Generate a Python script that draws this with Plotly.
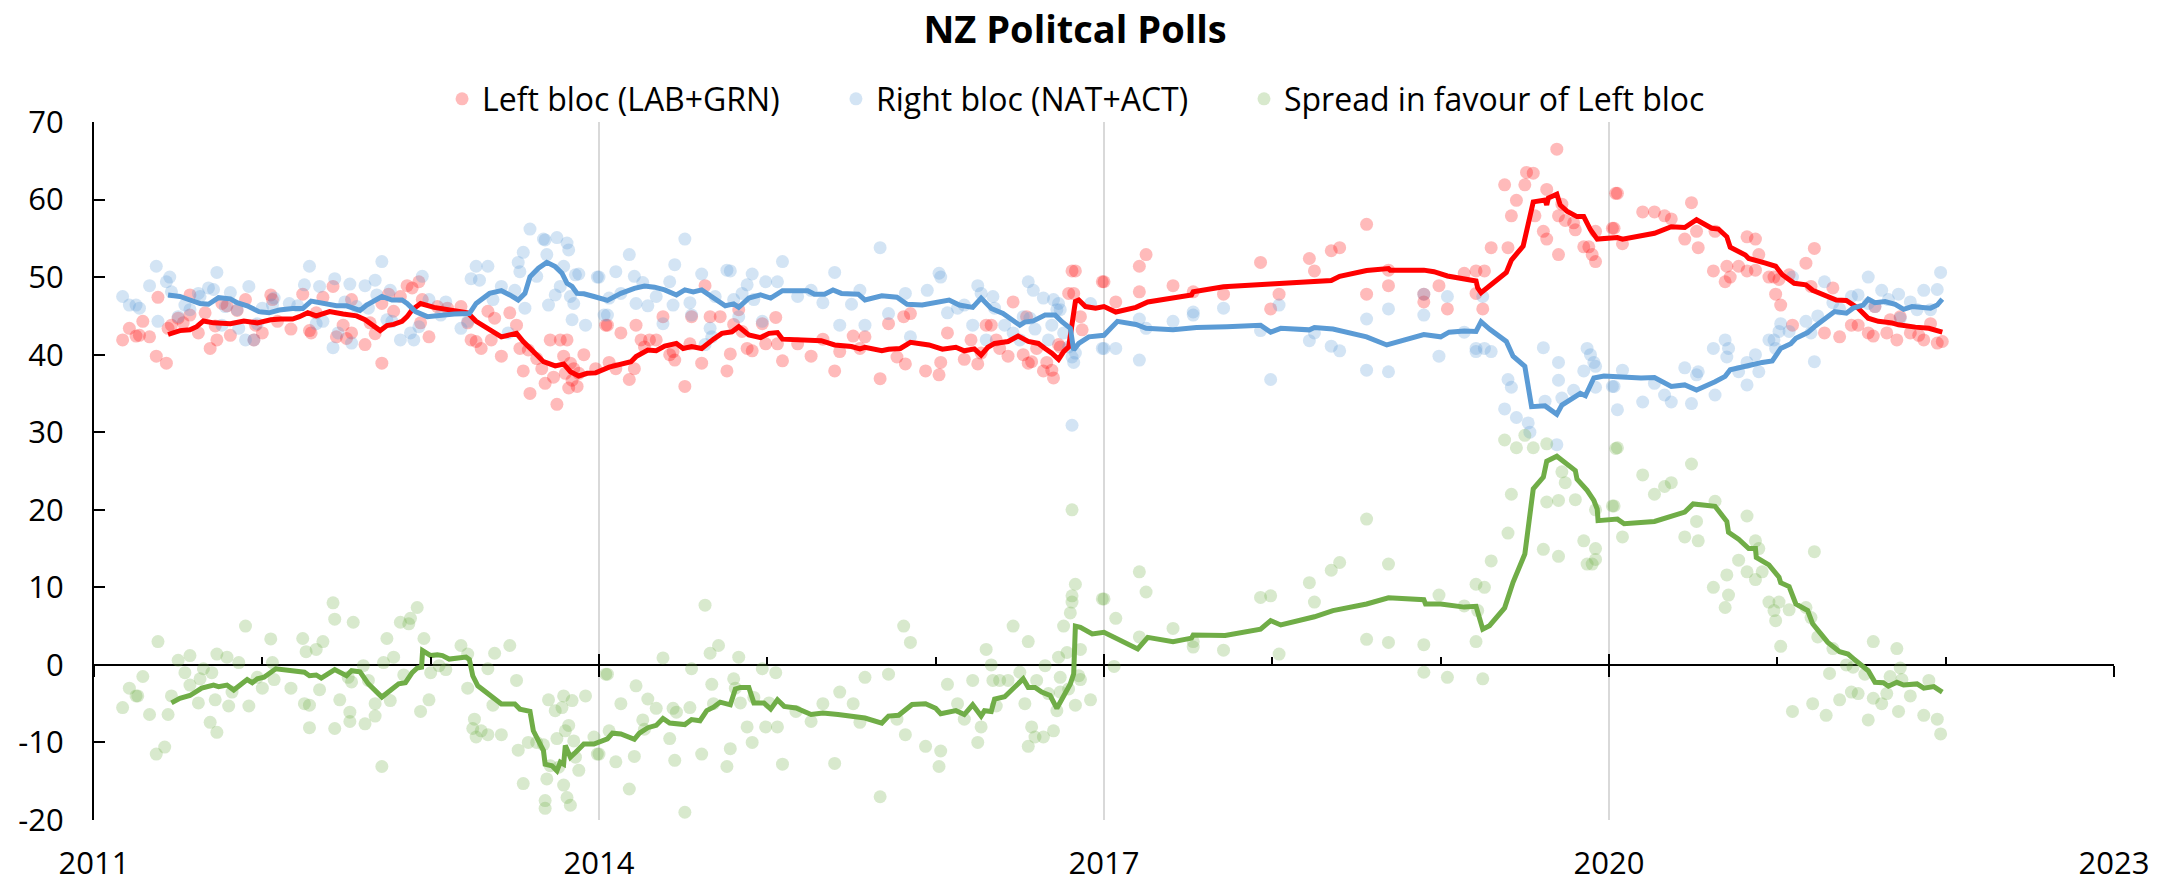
import plotly.graph_objects as go

# ---------------- data ----------------
title_text = "NZ Politcal Polls"
series_names = ["Left bloc (LAB+GRN)", "Right bloc (NAT+ACT)", "Spread in favour of Left bloc"]
year_ticks = [2011, 2014, 2017, 2020, 2023]
minor_years = [2012, 2013, 2015, 2016, 2018, 2019, 2021, 2022]
y_ticks = [-20, -10, 0, 10, 20, 30, 40, 50, 60, 70]
y_tick_text = ["-20", "-10", "0", "10", "20", "30", "40", "50", "60", "70"]

left_polls = [
    (2011.17, 41.9), (2011.21, 43.4), (2011.25, 42.4), (2011.29, 44.3), (2011.27, 42.5), (2011.33, 42.3),
    (2011.37, 39.8), (2011.38, 47.4), (2011.43, 38.9), (2011.44, 43.4), (2011.46, 43.8), (2011.50, 44.7),
    (2011.53, 44.1), (2011.57, 47.7), (2011.57, 45.1), (2011.62, 42.8), (2011.66, 45.4), (2011.69, 40.8),
    (2011.72, 43.7), (2011.73, 41.9), (2011.76, 46.6), (2011.79, 46.3), (2011.81, 42.5), (2011.85, 45.7),
    (2011.90, 47.1), (2011.95, 41.9), (2011.96, 43.8), (2012.00, 42.8), (2012.05, 47.7), (2012.06, 47.1),
    (2012.09, 44.3), (2012.17, 43.3), (2012.24, 47.8), (2012.28, 43.1), (2012.29, 42.8), (2012.32, 45.4),
    (2012.36, 47.4), (2012.42, 48.8), (2012.44, 42.3), (2012.48, 43.8), (2012.50, 42.1), (2012.53, 42.8),
    (2012.53, 47.1), (2012.61, 41.3), (2012.64, 44.1), (2012.67, 42.7), (2012.71, 46.6), (2012.71, 38.9),
    (2012.75, 47.8), (2012.78, 45.6), (2012.82, 47.5), (2012.86, 48.9), (2012.89, 48.6), (2012.93, 49.4),
    (2012.95, 47.1), (2012.94, 44.1), (2012.99, 42.3), (2013.04, 46.2), (2013.10, 46.0), (2013.18, 46.2),
    (2013.22, 44.1), (2013.24, 41.9), (2013.27, 41.7), (2013.30, 40.8), (2013.34, 45.6), (2013.36, 41.9),
    (2013.38, 44.7), (2013.42, 39.8), (2013.47, 45.4), (2013.51, 43.8), (2013.53, 40.8), (2013.55, 37.9),
    (2013.58, 40.6), (2013.59, 35.0), (2013.63, 39.5), (2013.66, 38.2), (2013.68, 36.3), (2013.71, 41.9),
    (2013.73, 37.1), (2013.75, 33.6), (2013.77, 41.9), (2013.79, 39.8), (2013.80, 37.6), (2013.81, 41.9),
    (2013.82, 35.7), (2013.83, 38.9), (2013.84, 36.7), (2013.85, 38.2), (2013.87, 35.9), (2013.88, 37.6),
    (2013.91, 40.0), (2013.98, 38.2), (2014.04, 43.8),
    (2014.05, 43.8), (2014.06, 39.0), (2014.10, 38.2), (2014.13, 42.8), (2014.18, 36.8), (2014.21, 38.2),
    (2014.22, 43.8), (2014.25, 41.9), (2014.27, 41.0), (2014.30, 41.9), (2014.34, 41.9), (2014.38, 44.9),
    (2014.42, 40.0), (2014.44, 40.4), (2014.45, 39.3), (2014.51, 35.9), (2014.54, 41.4), (2014.55, 44.9),
    (2014.61, 38.9), (2014.63, 48.9), (2014.66, 44.9), (2014.72, 44.9), (2014.76, 37.9), (2014.78, 40.1),
    (2014.80, 43.9), (2014.83, 45.8), (2014.85, 43.0), (2014.88, 40.8), (2014.91, 40.5), (2014.97, 44.0),
    (2014.99, 41.4), (2015.05, 44.8), (2015.06, 41.4), (2015.09, 39.2), (2015.18, 41.4), (2015.26, 39.8),
    (2015.33, 42.0), (2015.40, 37.9), (2015.43, 40.4), (2015.51, 42.4), (2015.55, 40.8), (2015.58, 42.3),
    (2015.67, 36.9), (2015.72, 44.0), (2015.77, 39.7), (2015.81, 44.9), (2015.82, 38.8), (2015.85, 45.3),
    (2015.94, 37.9), (2016.02, 37.4), (2016.03, 39.0), (2016.07, 42.8), (2016.17, 39.4), (2016.21, 41.9),
    (2016.25, 38.8), (2016.27, 40.2), (2016.30, 43.8), (2016.33, 43.8), (2016.36, 41.9), (2016.38, 40.8),
    (2016.43, 39.8), (2016.46, 46.8), (2016.52, 40.0), (2016.54, 44.9), (2016.55, 38.9), (2016.57, 39.1),
    (2016.60, 40.8), (2016.64, 37.9), (2016.66, 39.0), (2016.69, 38.0), (2016.70, 37.0), (2016.73, 41.3),
    (2016.74, 41.0), (2016.79, 47.9), (2016.81, 50.8), (2016.82, 47.9), (2016.83, 50.8), (2016.86, 44.9),
    (2016.87, 43.2), (2016.99, 49.4),
    (2017.00, 49.4), (2017.07, 46.8), (2017.21, 51.4), (2017.21, 48.1), (2017.25, 52.9), (2017.41, 48.9),
    (2017.53, 48.1), (2017.71, 47.8), (2017.93, 51.9), (2017.99, 45.9), (2018.04, 47.8), (2018.22, 52.4),
    (2018.25, 50.8), (2018.35, 53.4), (2018.40, 53.8), (2018.56, 56.8), (2018.56, 47.8), (2018.69, 50.9),
    (2018.69, 48.9), (2018.90, 47.8), (2018.90, 46.8), (2018.99, 48.9), (2019.04, 45.9), (2019.14, 50.5),
    (2019.21, 50.8), (2019.21, 47.9), (2019.25, 45.9), (2019.26, 50.8), (2019.30, 53.8), (2019.38, 61.9),
    (2019.40, 53.8), (2019.42, 57.9), (2019.45, 59.9), (2019.50, 61.9), (2019.51, 63.5), (2019.55, 63.4),
    (2019.56, 57.9), (2019.61, 55.9), (2019.63, 54.9), (2019.63, 61.3), (2019.69, 66.5), (2019.70, 57.9),
    (2019.70, 52.9), (2019.72, 59.4), (2019.74, 57.3), (2019.79, 57.0), (2019.80, 56.1), (2019.85, 53.9),
    (2019.88, 53.9), (2019.90, 52.9), (2019.92, 52.0), (2019.92, 55.9), (2020.03, 56.3), (2020.04, 60.8),
    (2020.02, 56.3), (2020.05, 60.8), (2020.08, 54.3), (2020.20, 58.4), (2020.27, 58.4), (2020.33, 57.9),
    (2020.37, 57.5), (2020.45, 54.9), (2020.49, 59.6), (2020.52, 55.9), (2020.53, 53.8), (2020.62, 50.8),
    (2020.63, 55.9), (2020.69, 49.4), (2020.70, 51.4), (2020.72, 50.0), (2020.77, 51.4), (2020.82, 55.2),
    (2020.82, 50.8), (2020.87, 54.9), (2020.87, 50.9), (2020.89, 52.9), (2020.95, 50.0), (2020.98, 50.0),
    (2020.99, 47.8), (2021.01, 49.7), (2021.02, 46.4), (2021.07, 50.3), (2021.09, 43.8), (2021.17, 51.8),
    (2021.20, 48.8), (2021.22, 53.7), (2021.28, 42.8), (2021.33, 48.6), (2021.37, 42.3), (2021.44, 43.8),
    (2021.48, 43.8), (2021.54, 42.8), (2021.57, 42.4), (2021.58, 46.2), (2021.65, 42.8), (2021.67, 44.5),
    (2021.71, 41.9), (2021.73, 44.9), (2021.79, 42.8), (2021.84, 42.5), (2021.87, 41.9), (2021.91, 44.0),
    (2021.95, 41.5), (2021.98, 41.7),
]

right_polls = [
    (2011.17, 47.5), (2011.21, 46.4), (2011.25, 46.4), (2011.27, 46.0), (2011.33, 48.9), (2011.37, 51.4),
    (2011.38, 44.3), (2011.43, 49.4), (2011.45, 50.0), (2011.46, 48.1), (2011.50, 44.9), (2011.54, 46.4),
    (2011.57, 45.8), (2011.62, 47.9), (2011.63, 47.5), (2011.68, 48.6), (2011.71, 48.4), (2011.73, 50.6),
    (2011.76, 43.8), (2011.78, 46.2), (2011.81, 48.0), (2011.85, 45.8), (2011.86, 43.4), (2011.90, 41.9),
    (2011.92, 48.8), (2011.95, 41.9), (2011.97, 44.0), (2012.00, 46.0), (2012.06, 46.4), (2012.07, 47.3),
    (2012.16, 46.6), (2012.21, 46.3), (2012.25, 49.0), (2012.28, 51.4), (2012.32, 44.0), (2012.34, 48.8),
    (2012.36, 44.3), (2012.42, 40.9), (2012.43, 49.8), (2012.45, 42.8), (2012.49, 46.8), (2012.52, 49.1),
    (2012.53, 41.5), (2012.56, 46.2), (2012.61, 48.9), (2012.63, 46.0), (2012.67, 49.6), (2012.68, 47.7),
    (2012.71, 52.0), (2012.74, 44.5), (2012.76, 48.3), (2012.77, 44.3), (2012.82, 41.9), (2012.88, 42.8),
    (2012.90, 41.9), (2012.93, 43.6), (2012.95, 50.1), (2012.99, 47.1), (2013.06, 45.1), (2013.09, 46.8),
    (2013.18, 43.4), (2013.22, 44.3), (2013.24, 49.8), (2013.27, 51.4), (2013.29, 49.6), (2013.34, 51.4),
    (2013.37, 47.1), (2013.42, 48.8), (2013.46, 42.8), (2013.50, 48.3), (2013.52, 51.9), (2013.53, 50.7),
    (2013.55, 53.2), (2013.56, 46.0), (2013.59, 56.2), (2013.63, 50.1), (2013.67, 54.9), (2013.68, 54.8),
    (2013.69, 52.9), (2013.70, 46.4), (2013.74, 47.7), (2013.75, 55.1), (2013.77, 48.8), (2013.79, 51.4),
    (2013.81, 54.4), (2013.82, 53.5), (2013.83, 47.5), (2013.84, 44.5), (2013.85, 46.6), (2013.86, 50.3),
    (2013.88, 50.4), (2013.92, 43.8), (2013.99, 50.0), (2014.03, 45.1),
    (2014.00, 50.0), (2014.05, 45.1), (2014.06, 47.3), (2014.10, 50.7), (2014.13, 47.9), (2014.18, 52.9),
    (2014.21, 50.1), (2014.22, 46.6), (2014.26, 49.3), (2014.29, 46.3), (2014.34, 47.5), (2014.38, 44.0),
    (2014.42, 49.4), (2014.44, 46.4), (2014.45, 51.6), (2014.51, 54.9), (2014.54, 46.7), (2014.55, 45.1),
    (2014.61, 50.4), (2014.63, 41.3), (2014.66, 43.4), (2014.67, 42.3), (2014.69, 47.5), (2014.76, 50.9),
    (2014.78, 50.8), (2014.80, 47.1), (2014.83, 44.9), (2014.85, 47.9), (2014.88, 49.0), (2014.91, 50.4),
    (2014.92, 47.1), (2014.97, 44.3), (2014.99, 49.4), (2015.06, 49.4), (2015.09, 52.0), (2015.18, 47.5),
    (2015.26, 48.3), (2015.33, 46.7), (2015.40, 50.6), (2015.43, 43.8), (2015.50, 46.5), (2015.55, 48.3),
    (2015.58, 43.8), (2015.67, 53.8), (2015.72, 45.3), (2015.82, 47.9), (2015.85, 42.3), (2015.95, 48.3),
    (2016.02, 50.5), (2016.03, 50.0), (2016.07, 45.4), (2016.13, 46.0), (2016.17, 46.4), (2016.22, 43.8),
    (2016.25, 48.9), (2016.27, 47.9), (2016.30, 41.9), (2016.34, 47.5), (2016.35, 46.0), (2016.41, 43.8),
    (2016.46, 42.8), (2016.50, 41.9), (2016.52, 44.9), (2016.55, 49.4), (2016.56, 44.7), (2016.58, 48.3),
    (2016.59, 43.3), (2016.64, 47.3), (2016.67, 41.9), (2016.69, 43.8), (2016.70, 47.1), (2016.72, 45.8),
    (2016.73, 46.6), (2016.74, 45.8), (2016.76, 42.8), (2016.79, 41.0), (2016.81, 39.7), (2016.82, 39.0),
    (2016.83, 40.2), (2016.81, 30.9), (2016.92, 46.6), (2016.99, 40.8),
    (2017.00, 40.8), (2017.07, 40.8), (2017.21, 44.6), (2017.21, 39.3), (2017.25, 43.4), (2017.41, 44.3),
    (2017.53, 45.5), (2017.53, 45.1), (2017.71, 46.0), (2017.93, 43.1), (2017.99, 36.8), (2018.04, 46.4),
    (2018.22, 41.8), (2018.25, 42.8), (2018.35, 41.1), (2018.40, 40.5), (2018.56, 44.6), (2018.56, 38.0),
    (2018.69, 45.9), (2018.69, 37.8), (2018.90, 45.1), (2018.90, 47.8), (2018.99, 39.8), (2019.04, 47.5),
    (2019.14, 42.9), (2019.21, 40.8), (2019.21, 40.4), (2019.25, 47.5), (2019.26, 40.8), (2019.30, 40.4),
    (2019.38, 33.0), (2019.40, 36.8), (2019.42, 35.8), (2019.45, 31.9), (2019.52, 31.2), (2019.53, 30.0),
    (2019.61, 40.9), (2019.62, 34.0), (2019.69, 28.4), (2019.70, 39.0), (2019.70, 36.7), (2019.72, 34.4),
    (2019.79, 35.4), (2019.87, 40.8), (2019.89, 40.0), (2019.91, 39.0), (2019.92, 38.5), (2019.85, 37.9),
    (2019.92, 35.8), (2020.03, 35.9),
    (2020.02, 35.9), (2020.05, 32.9), (2020.08, 38.0), (2020.20, 33.9), (2020.27, 36.3), (2020.33, 34.8),
    (2020.37, 33.9), (2020.45, 38.3), (2020.49, 33.7), (2020.52, 37.4), (2020.53, 37.8), (2020.62, 40.8),
    (2020.63, 34.8), (2020.69, 41.9), (2020.70, 39.7), (2020.71, 40.8), (2020.77, 37.8), (2020.82, 36.1),
    (2020.82, 39.0), (2020.87, 40.0), (2020.89, 37.8), (2020.95, 41.9), (2020.98, 41.9), (2020.99, 40.8),
    (2021.01, 43.0), (2021.02, 44.0), (2021.07, 43.0), (2021.09, 50.0), (2021.17, 44.3), (2021.20, 42.8),
    (2021.22, 39.1), (2021.24, 45.0), (2021.28, 49.4), (2021.33, 46.7), (2021.37, 45.9), (2021.44, 47.5),
    (2021.48, 47.7), (2021.54, 50.0), (2021.54, 46.6), (2021.58, 46.2), (2021.62, 48.3), (2021.66, 47.1),
    (2021.72, 47.8), (2021.73, 44.7), (2021.79, 46.8), (2021.83, 45.8), (2021.87, 48.3), (2021.91, 45.8),
    (2021.95, 48.4), (2021.97, 50.6),
]

spread_polls = [
    (2011.17, -5.5), (2011.21, -3.0), (2011.25, -4.0), (2011.26, -4.0), (2011.29, -1.5), (2011.33, -6.4),
    (2011.37, -11.5), (2011.38, 3.0), (2011.42, -10.6), (2011.44, -6.4), (2011.46, -4.0), (2011.50, 0.6),
    (2011.54, -1.0), (2011.57, 1.2), (2011.57, -2.6), (2011.62, -4.9), (2011.63, -1.8), (2011.65, -0.5),
    (2011.69, -7.4), (2011.70, -1.0), (2011.72, -4.5), (2011.73, 1.4), (2011.73, -8.7), (2011.79, 1.0),
    (2011.80, -5.3), (2011.82, -3.5), (2011.86, 0.3), (2011.90, 5.0), (2011.92, -5.3), (2011.97, -1.6),
    (2012.00, -3.0), (2012.05, 3.35), (2012.06, 0.3), (2012.07, -1.9), (2012.17, -3.0), (2012.24, 3.4),
    (2012.25, -5.0), (2012.26, 1.7), (2012.28, -5.2), (2012.28, -8.1), (2012.32, 2.0), (2012.34, -3.2),
    (2012.36, 3.0), (2012.42, 8.0), (2012.43, 5.9), (2012.43, -8.2), (2012.46, -4.5), (2012.51, -1.6),
    (2012.52, -6.1), (2012.52, -7.3), (2012.53, -2.2), (2012.54, 5.5), (2012.60, -0.1), (2012.61, -7.6),
    (2012.63, -2.0), (2012.67, -6.6), (2012.67, -5.0), (2012.71, -13.1), (2012.72, 0.3), (2012.74, 3.4),
    (2012.76, -4.6), (2012.78, 1.0), (2012.82, 5.5), (2012.84, -1.3), (2012.87, 5.3), (2012.88, 6.0),
    (2012.92, 7.4), (2012.94, -6.0), (2012.96, 3.4), (2012.99, -4.5), (2013.00, -1.0), (2013.05, -0.1),
    (2013.09, -0.6), (2013.18, 2.5), (2013.22, 1.4), (2013.22, -3.0), (2013.25, -8.2), (2013.26, -7.0),
    (2013.27, -9.3), (2013.30, -8.5), (2013.34, -9.0), (2013.34, -0.5), (2013.37, -5.2), (2013.38, 1.5),
    (2013.42, -9.0), (2013.47, 2.5), (2013.51, -2.0), (2013.52, -11.0), (2013.55, -15.3), (2013.58, -10.0),
    (2013.63, -10.0), (2013.67, -10.3), (2013.68, -17.5), (2013.68, -18.5), (2013.69, -14.7), (2013.70, -4.5),
    (2013.71, -13.0), (2013.74, -5.9), (2013.75, -9.5), (2013.76, -13.2), (2013.78, -5.5), (2013.79, -4.0),
    (2013.79, -15.5), (2013.80, -8.5), (2013.81, -17.1), (2013.82, -7.8), (2013.83, -18.1), (2013.84, -4.6),
    (2013.85, -9.8), (2013.86, -11.9), (2013.88, -13.6), (2013.92, -4.0), (2013.97, -9.3), (2013.99, -11.5),
    (2014.04, -1.2),
    (2014.00, -11.5), (2014.05, -1.2), (2014.06, -8.5), (2014.10, -12.5), (2014.13, -5.0), (2014.18, -16.0),
    (2014.21, -11.8), (2014.22, -2.7), (2014.26, -7.1), (2014.27, -8.3), (2014.29, -4.4), (2014.34, -5.6),
    (2014.38, 0.9), (2014.42, -9.5), (2014.44, -5.6), (2014.45, -12.3), (2014.46, -6.1), (2014.51, -19.0),
    (2014.54, -5.5), (2014.55, -0.5), (2014.61, -11.5), (2014.63, 7.7), (2014.66, 1.5), (2014.67, -2.5),
    (2014.68, -5.0), (2014.71, 2.5), (2014.76, -13.1), (2014.78, -10.8), (2014.80, -1.8), (2014.81, -3.0),
    (2014.83, 1.0), (2014.84, -4.9), (2014.88, -8.0), (2014.91, -10.0), (2014.92, -4.2), (2014.97, -0.5),
    (2014.99, -8.0), (2015.01, -4.9), (2015.05, -1.0), (2015.06, -8.0), (2015.09, -12.8), (2015.17, -6.0),
    (2015.26, -7.3), (2015.33, -5.0), (2015.40, -12.7), (2015.43, -3.5), (2015.51, -5.0), (2015.55, -7.4),
    (2015.58, -1.6), (2015.67, -17.0), (2015.72, -1.2), (2015.77, -7.0), (2015.81, 5.0), (2015.82, -9.0),
    (2015.85, 2.9), (2015.94, -10.5), (2016.02, -13.1), (2016.03, -11.1), (2016.07, -2.5), (2016.13, -5.0),
    (2016.17, -7.0), (2016.22, -2.0), (2016.25, -10.0), (2016.27, -8.0), (2016.30, 2.0), (2016.33, 0.0),
    (2016.34, -2.0), (2016.36, -5.3), (2016.38, -2.0), (2016.43, -2.0), (2016.46, 5.0), (2016.50, -0.95),
    (2016.53, -5.0), (2016.55, 3.0), (2016.55, -10.5), (2016.57, -8.0), (2016.59, -9.3), (2016.60, -2.0),
    (2016.64, -9.3), (2016.65, -0.1), (2016.67, -3.7), (2016.70, -8.5), (2016.72, -5.9), (2016.73, 1.0),
    (2016.74, -3.5), (2016.74, -1.6), (2016.76, 5.0), (2016.78, 1.6), (2016.79, -3.1), (2016.80, 6.7),
    (2016.81, 8.1), (2016.81, 8.9), (2016.81, 20.0), (2016.83, 10.4), (2016.83, -5.2), (2016.85, -1.4),
    (2016.86, -1.9), (2016.86, 2.0), (2016.92, -4.5), (2016.99, 8.5),
    (2017.00, 8.5), (2017.07, 6.0), (2017.06, -0.2), (2017.21, 12.0), (2017.21, 3.6), (2017.25, 9.4),
    (2017.41, 4.7), (2017.53, 3.0), (2017.53, 2.3), (2017.71, 1.9), (2017.93, 8.7), (2017.99, 8.9),
    (2018.04, 1.4), (2018.22, 10.6), (2018.25, 8.1), (2018.35, 12.2), (2018.40, 13.2), (2018.56, 18.8),
    (2018.56, 3.3), (2018.69, 13.0), (2018.69, 2.9), (2018.90, 2.6), (2018.90, -0.95), (2018.99, 9.0),
    (2019.04, -1.6), (2019.14, 7.6), (2019.21, 10.4), (2019.21, 3.0), (2019.22, 7.0), (2019.25, -1.8),
    (2019.26, 10.0), (2019.30, 13.4), (2019.38, 29.0), (2019.40, 17.0), (2019.42, 22.0), (2019.45, 28.0),
    (2019.50, 29.6), (2019.55, 28.0), (2019.61, 14.9), (2019.63, 21.0), (2019.63, 28.5), (2019.70, 21.2),
    (2019.70, 14.0), (2019.72, 24.9), (2019.74, 23.5), (2019.80, 21.3), (2019.85, 16.0), (2019.87, 13.0),
    (2019.90, 13.0), (2019.92, 15.0), (2019.92, 13.6), (2019.92, 20.0), (2020.03, 20.5), (2020.04, 27.9),
    (2020.02, 20.5), (2020.05, 28.0), (2020.08, 16.5), (2020.20, 24.5), (2020.27, 22.0), (2020.33, 23.0),
    (2020.37, 23.5), (2020.45, 16.5), (2020.49, 25.9), (2020.52, 18.5), (2020.53, 16.0), (2020.62, 10.0),
    (2020.63, 21.1), (2020.69, 7.4), (2020.70, 11.6), (2020.71, 9.0), (2020.77, 13.5), (2020.82, 19.2),
    (2020.82, 12.0), (2020.87, 16.0), (2020.87, 11.0), (2020.89, 15.0), (2020.91, 12.0), (2020.95, 8.1),
    (2020.98, 7.0), (2020.99, 5.7), (2021.01, 8.1), (2021.02, 2.4), (2021.07, 7.1), (2021.09, -6.0),
    (2021.17, 7.4), (2021.20, 6.1), (2021.21, -5.0), (2021.22, 14.6), (2021.24, 3.6), (2021.29, -6.5),
    (2021.31, -1.1), (2021.33, 2.1), (2021.37, -4.5), (2021.41, 0.0), (2021.44, -3.5), (2021.45, -0.3),
    (2021.48, -3.7), (2021.52, -1.2), (2021.54, -7.1), (2021.57, 3.0), (2021.57, -4.3), (2021.62, -5.0),
    (2021.65, -3.7), (2021.67, -1.5), (2021.71, 2.1), (2021.72, -6.0), (2021.73, -0.4), (2021.74, -1.9),
    (2021.79, -4.0), (2021.87, -6.5), (2021.90, -2.0), (2021.95, -7.0), (2021.97, -8.9),
]

left_avg = [
    (2011.44, 42.6), (2011.51, 43.1), (2011.57, 43.2), (2011.61, 43.6), (2011.65, 44.35), (2011.71, 44.1),
    (2011.81, 44.0), (2011.89, 44.35), (2011.97, 44.1), (2012.05, 44.5), (2012.11, 44.6), (2012.18, 44.6),
    (2012.22, 44.9), (2012.27, 45.4), (2012.32, 45.0), (2012.40, 45.55), (2012.48, 45.25), (2012.56, 45.0),
    (2012.61, 44.5), (2012.66, 43.7), (2012.70, 43.1), (2012.74, 43.75), (2012.78, 43.9), (2012.83, 44.3),
    (2012.86, 44.9), (2012.89, 45.8), (2012.94, 46.6), (2013.02, 46.1), (2013.10, 45.85), (2013.16, 45.65),
    (2013.22, 45.4), (2013.27, 44.3), (2013.35, 43.2), (2013.42, 42.3), (2013.51, 42.75), (2013.55, 41.7),
    (2013.61, 40.4), (2013.67, 39.1), (2013.74, 38.55), (2013.79, 38.8), (2013.83, 37.8), (2013.88, 37.25),
    (2013.93, 37.6), (2013.98, 37.65), (2014.06, 38.4), (2014.12, 38.7), (2014.19, 39.1), (2014.22, 39.75),
    (2014.29, 40.6), (2014.34, 40.5), (2014.39, 41.1), (2014.46, 41.45), (2014.50, 40.8), (2014.55, 41.05),
    (2014.61, 40.8), (2014.68, 42.0), (2014.73, 42.75), (2014.79, 42.95), (2014.83, 43.6), (2014.89, 42.55),
    (2014.96, 42.2), (2015.01, 42.75), (2015.06, 42.85), (2015.09, 42.0), (2015.20, 41.9), (2015.32, 41.8),
    (2015.40, 41.25), (2015.50, 41.05), (2015.55, 40.75), (2015.58, 40.95), (2015.68, 40.5), (2015.72, 40.7),
    (2015.79, 40.8), (2015.85, 41.6), (2015.96, 41.25), (2016.04, 40.7), (2016.12, 40.95), (2016.17, 40.5),
    (2016.23, 40.75), (2016.27, 39.95), (2016.31, 40.95), (2016.35, 41.45), (2016.43, 41.7), (2016.49, 42.4),
    (2016.55, 41.7), (2016.61, 41.45), (2016.65, 40.8), (2016.69, 40.2), (2016.73, 39.4), (2016.76, 40.4),
    (2016.79, 41.0), (2016.81, 44.5), (2016.83, 46.85), (2016.85, 47.05), (2016.89, 46.2), (2016.95, 46.0),
    (2017.00, 46.2), (2017.07, 45.5), (2017.19, 46.1), (2017.26, 46.8), (2017.52, 47.7), (2017.53, 48.1),
    (2017.71, 48.75), (2017.99, 49.1), (2018.20, 49.4), (2018.35, 49.55), (2018.40, 50.1), (2018.56, 50.85),
    (2018.69, 51.1), (2018.70, 50.9), (2018.90, 50.9), (2018.96, 50.7), (2019.04, 50.15), (2019.19, 49.6),
    (2019.21, 49.5), (2019.22, 48.6), (2019.24, 48.0), (2019.31, 49.2), (2019.39, 50.6), (2019.42, 52.2),
    (2019.49, 54.0), (2019.55, 59.7), (2019.62, 59.95), (2019.63, 59.3), (2019.64, 60.2), (2019.69, 60.7),
    (2019.71, 59.3), (2019.75, 58.5), (2019.81, 57.8), (2019.85, 57.8), (2019.89, 56.1), (2019.93, 54.9),
    (2020.05, 55.1), (2020.08, 54.9), (2020.27, 55.65), (2020.37, 56.5), (2020.45, 56.4), (2020.52, 57.4),
    (2020.61, 56.3), (2020.65, 56.2), (2020.70, 55.2), (2020.72, 53.85), (2020.81, 52.85), (2020.83, 52.4),
    (2020.89, 52.1), (2020.93, 51.8), (2020.99, 51.4), (2021.03, 50.3), (2021.10, 49.2), (2021.17, 49.0),
    (2021.21, 48.3), (2021.28, 47.7), (2021.35, 47.05), (2021.41, 47.0), (2021.48, 46.0), (2021.54, 44.7),
    (2021.60, 44.3), (2021.68, 44.1), (2021.72, 43.85), (2021.82, 43.55), (2021.90, 43.4), (2021.98, 42.9),
]

right_avg = [
    (2011.44, 47.7), (2011.51, 47.5), (2011.57, 47.05), (2011.63, 46.6), (2011.68, 46.5), (2011.74, 47.35),
    (2011.81, 47.2), (2011.85, 46.7), (2011.91, 46.3), (2011.98, 45.55), (2012.04, 45.4), (2012.10, 45.75),
    (2012.18, 45.95), (2012.24, 45.95), (2012.29, 46.9), (2012.36, 46.6), (2012.44, 46.3), (2012.50, 46.3),
    (2012.58, 45.7), (2012.62, 46.4), (2012.66, 46.85), (2012.71, 47.5), (2012.77, 47.05), (2012.83, 47.05),
    (2012.86, 46.6), (2012.91, 45.55), (2012.98, 44.9), (2013.06, 45.1), (2013.14, 45.25), (2013.23, 45.3),
    (2013.27, 46.6), (2013.35, 47.9), (2013.42, 48.25), (2013.47, 47.7), (2013.52, 47.05), (2013.56, 47.9),
    (2013.59, 50.05), (2013.64, 51.15), (2013.69, 51.9), (2013.74, 51.35), (2013.78, 50.5), (2013.81, 49.2),
    (2013.84, 48.8), (2013.87, 47.9), (2013.91, 47.85), (2013.97, 47.5), (2014.05, 47.0), (2014.13, 47.9),
    (2014.21, 48.55), (2014.27, 48.85), (2014.33, 48.7), (2014.39, 48.35), (2014.46, 47.7), (2014.51, 48.35),
    (2014.56, 48.1), (2014.61, 48.35), (2014.67, 47.5), (2014.75, 46.3), (2014.80, 46.55), (2014.83, 46.1),
    (2014.89, 47.3), (2014.96, 47.7), (2015.02, 47.3), (2015.09, 48.25), (2015.24, 48.25), (2015.28, 47.8),
    (2015.34, 47.8), (2015.39, 48.35), (2015.44, 47.9), (2015.54, 47.8), (2015.58, 47.05), (2015.68, 47.6),
    (2015.77, 47.4), (2015.83, 46.5), (2015.92, 46.4), (2016.00, 46.7), (2016.08, 47.05), (2016.14, 46.4),
    (2016.22, 46.1), (2016.27, 47.3), (2016.33, 45.95), (2016.40, 45.3), (2016.44, 44.7), (2016.50, 43.8),
    (2016.53, 44.2), (2016.58, 44.35), (2016.65, 45.1), (2016.71, 45.1), (2016.75, 44.25), (2016.80, 43.4),
    (2016.82, 40.6), (2016.85, 41.45), (2016.91, 42.3), (2017.00, 42.5), (2017.04, 43.4), (2017.08, 44.3),
    (2017.19, 43.9), (2017.25, 43.4), (2017.41, 43.2), (2017.55, 43.5), (2017.73, 43.6), (2017.93, 43.8),
    (2017.99, 42.9), (2018.05, 43.4), (2018.22, 43.2), (2018.25, 43.5), (2018.36, 43.3), (2018.56, 42.3),
    (2018.68, 41.25), (2018.90, 42.6), (2019.00, 42.3), (2019.05, 42.9), (2019.14, 43.05), (2019.21, 43.0),
    (2019.24, 44.25), (2019.29, 43.3), (2019.39, 41.7), (2019.43, 39.8), (2019.50, 38.5), (2019.54, 33.3),
    (2019.62, 33.4), (2019.69, 32.3), (2019.72, 33.5), (2019.79, 34.45), (2019.83, 35.0), (2019.86, 34.7),
    (2019.91, 37.0), (2019.97, 37.25), (2020.06, 37.1), (2020.19, 37.0), (2020.27, 37.05), (2020.37, 35.9),
    (2020.45, 36.1), (2020.52, 35.45), (2020.63, 36.5), (2020.69, 37.2), (2020.72, 38.05), (2020.77, 38.25),
    (2020.85, 38.7), (2020.91, 39.0), (2020.97, 39.2), (2021.02, 40.8), (2021.08, 41.4), (2021.11, 42.1),
    (2021.18, 42.85), (2021.22, 43.6), (2021.28, 44.5), (2021.34, 45.55), (2021.41, 45.35), (2021.45, 46.0),
    (2021.51, 46.4), (2021.54, 47.15), (2021.58, 46.7), (2021.64, 46.85), (2021.70, 46.5), (2021.75, 45.85),
    (2021.80, 46.2), (2021.91, 46.0), (2021.95, 46.4), (2021.98, 47.15),
]

spread_avg = [
    (2011.46, -4.9), (2011.51, -4.3), (2011.57, -3.95), (2011.61, -3.5), (2011.64, -3.0), (2011.71, -2.6),
    (2011.74, -2.8), (2011.79, -2.6), (2011.83, -3.25), (2011.91, -1.9), (2011.94, -2.3), (2011.97, -1.8),
    (2012.01, -1.6), (2012.08, -0.5), (2012.25, -0.95), (2012.28, -1.4), (2012.32, -1.3), (2012.35, -1.7),
    (2012.43, -0.6), (2012.50, -1.4), (2012.53, -0.75), (2012.58, -0.9), (2012.63, -2.45), (2012.71, -4.15),
    (2012.77, -3.1), (2012.81, -2.45), (2012.85, -2.3), (2012.89, -1.0), (2012.92, -0.4), (2012.946, -0.3),
    (2012.952, 1.85), (2013.00, 1.2), (2013.04, 1.3), (2013.07, 1.2), (2013.11, 0.75), (2013.21, 1.0),
    (2013.23, 0.7), (2013.25, -1.4), (2013.28, -2.7), (2013.35, -3.95), (2013.42, -5.05), (2013.50, -5.05),
    (2013.53, -5.7), (2013.59, -6.0), (2013.61, -8.5), (2013.67, -11.05), (2013.68, -12.8), (2013.72, -13.0),
    (2013.75, -13.65), (2013.77, -12.55), (2013.79, -12.8), (2013.80, -10.4), (2013.83, -11.9), (2013.86, -11.3),
    (2013.91, -10.2), (2013.97, -10.2), (2014.05, -9.55), (2014.08, -8.8), (2014.13, -8.9), (2014.21, -9.6),
    (2014.24, -8.8), (2014.29, -8.1), (2014.34, -7.8), (2014.38, -6.9), (2014.42, -7.5), (2014.51, -7.7),
    (2014.55, -7.05), (2014.60, -7.2), (2014.64, -5.9), (2014.68, -5.45), (2014.72, -4.8), (2014.78, -5.15),
    (2014.81, -3.1), (2014.84, -2.9), (2014.89, -2.9), (2014.92, -4.9), (2014.98, -4.9), (2015.02, -5.7),
    (2015.06, -4.5), (2015.10, -5.35), (2015.17, -5.55), (2015.26, -6.4), (2015.33, -6.2), (2015.42, -6.4),
    (2015.52, -6.75), (2015.58, -6.85), (2015.68, -7.5), (2015.72, -6.6), (2015.78, -6.5), (2015.82, -5.7),
    (2015.86, -5.1), (2015.94, -5.0), (2016.00, -5.6), (2016.03, -6.3), (2016.12, -5.9), (2016.17, -6.4),
    (2016.22, -5.15), (2016.27, -6.6), (2016.29, -5.9), (2016.33, -6.0), (2016.35, -4.4), (2016.41, -4.1),
    (2016.52, -1.8), (2016.55, -2.9), (2016.59, -2.9), (2016.63, -3.5), (2016.68, -3.95), (2016.72, -5.6),
    (2016.75, -4.4), (2016.80, -2.45), (2016.82, -1.15), (2016.83, 5.0), (2016.86, 4.85), (2016.93, 4.0),
    (2017.00, 4.2), (2017.07, 3.45), (2017.20, 2.05), (2017.26, 3.55), (2017.41, 3.0), (2017.52, 3.45),
    (2017.53, 3.85), (2017.72, 3.8), (2017.93, 4.6), (2017.99, 5.7), (2018.05, 5.15), (2018.25, 6.2),
    (2018.36, 7.0), (2018.56, 7.85), (2018.69, 8.65), (2018.90, 8.4), (2018.91, 7.85), (2019.00, 7.85),
    (2019.14, 7.45), (2019.21, 7.55), (2019.25, 4.6), (2019.29, 5.05), (2019.38, 7.35), (2019.43, 10.65),
    (2019.50, 14.3), (2019.55, 22.7), (2019.61, 24.2), (2019.63, 26.25), (2019.69, 26.9), (2019.80, 25.05),
    (2019.81, 23.95), (2019.87, 22.5), (2019.91, 21.2), (2019.93, 20.1), (2019.935, 18.6), (2020.05, 18.8),
    (2020.09, 18.2), (2020.27, 18.5), (2020.36, 19.15), (2020.45, 19.7), (2020.50, 20.75), (2020.63, 20.45),
    (2020.70, 18.5), (2020.71, 17.1), (2020.77, 16.2), (2020.83, 15.0), (2020.87, 15.0), (2020.875, 13.85),
    (2020.95, 12.9), (2021.01, 11.3), (2021.02, 10.6), (2021.07, 10.1), (2021.11, 7.85), (2021.18, 7.0),
    (2021.21, 5.3), (2021.30, 2.9), (2021.37, 1.7), (2021.42, 1.4), (2021.45, 0.85), (2021.54, -0.75),
    (2021.58, -2.25), (2021.63, -2.3), (2021.66, -2.75), (2021.71, -2.25), (2021.75, -2.6), (2021.80, -2.55),
    (2021.83, -2.45), (2021.87, -3.0), (2021.93, -2.8), (2021.98, -3.5),
]

# ---------------- styling ----------------
FONT = "Open Sans"
RED, BLUE, GREEN = "#FF0000", "#5B9BD5", "#70AD47"
DOT_ALPHA = 0.27
LEGEND_X = [0.1723, 0.3673, 0.5693]   # one legend box per entry
LEGEND_IDS = ["legend", "legend2", "legend3"]


def xs(pairs):
    return [p[0] for p in pairs]


def ys(pairs):
    return [p[1] for p in pairs]


def rgba(hex_color, a):
    h = hex_color.lstrip("#")
    r, g, b = int(h[0:2], 16), int(h[2:4], 16), int(h[4:6], 16)
    return f"rgba({r},{g},{b},{a})"


fig = go.Figure()

for name, pts, col, lg in [(series_names[0], left_polls, RED, LEGEND_IDS[0]),
                           (series_names[1], right_polls, BLUE, LEGEND_IDS[1]),
                           (series_names[2], spread_polls, GREEN, LEGEND_IDS[2])]:
    fig.add_trace(go.Scatter(
        x=xs(pts), y=ys(pts), mode="markers", name=name, legend=lg,
        marker=dict(size=13, color=rgba(col, DOT_ALPHA), line=dict(width=0)),
        hoverinfo="skip",
    ))

for pts, col in [(left_avg, RED), (right_avg, BLUE), (spread_avg, GREEN)]:
    fig.add_trace(go.Scatter(
        x=xs(pts), y=ys(pts), mode="lines", showlegend=False,
        line=dict(color=col, width=5), hoverinfo="skip",
    ))

# helper traces so the tick-mark axes on the zero line are rendered
for ax in ["x2", "x3"]:
    fig.add_trace(go.Scatter(x=[year_ticks[0]], y=[None], xaxis=ax, yaxis="y",
                             mode="markers", showlegend=False, hoverinfo="skip",
                             marker=dict(opacity=0)))

xr = [year_ticks[0], year_ticks[-1]]
zero_pos = (0 - y_ticks[0]) / (y_ticks[-1] - y_ticks[0])

legend_common = dict(orientation="h", xanchor="left", xref="paper",
                     y=1 + 23 / 698, yanchor="middle", yref="paper",
                     font=dict(family=FONT, size=32, color="black"),
                     bgcolor="rgba(0,0,0,0)", borderwidth=0)

fig.update_layout(
    width=2175, height=884,
    # the page body adds an 8px offset; margins are set so the plot area lands at x 94-2114, y 122-820
    margin=dict(l=86, r=69, t=114, b=72),
    paper_bgcolor="white", plot_bgcolor="white",
    font=dict(family=FONT, size=31, color="black"),
    title=dict(text=title_text, x=0.4857, xref="paper", xanchor="center",
               y=1 - 8 / 884, yref="container", yanchor="top",
               font=dict(family=FONT, size=38, color="black", weight="bold")),
    showlegend=True,
    legend=dict(x=LEGEND_X[0], **legend_common),
    legend2=dict(x=LEGEND_X[1], **legend_common),
    legend3=dict(x=LEGEND_X[2], **legend_common),
    xaxis=dict(range=xr, tickmode="array", tickvals=year_ticks,
               ticktext=[str(v) for v in year_ticks],
               showline=False, ticks="", zeroline=False,
               showgrid=True, gridcolor="#D9D9D9", gridwidth=2,
               tickfont=dict(family=FONT, size=31, color="black"),
               ticklabelstandoff=22, anchor="y", automargin=False),
    xaxis2=dict(range=xr, overlaying="x", anchor="free", position=zero_pos,
                tickmode="array", tickvals=year_ticks, ticks="inside", ticklen=11,
                tickwidth=2, tickcolor="black", showticklabels=False,
                showline=False, showgrid=False, zeroline=False, automargin=False,
                minor=dict(tickmode="array", tickvals=minor_years, ticks="inside",
                           ticklen=8, tickwidth=2, tickcolor="black", showgrid=False)),
    xaxis3=dict(range=xr, overlaying="x", anchor="free", position=zero_pos,
                tickmode="array", tickvals=year_ticks, ticks="outside", ticklen=11,
                tickwidth=2, tickcolor="black", showticklabels=False,
                showline=False, showgrid=False, zeroline=False, automargin=False),
    yaxis=dict(range=[y_ticks[0], y_ticks[-1]], tickmode="array", tickvals=y_ticks,
               ticktext=y_tick_text,
               showline=True, linecolor="black", linewidth=2,
               ticks="inside", ticklen=11, tickwidth=2, tickcolor="black",
               showgrid=False, zeroline=True, zerolinecolor="black", zerolinewidth=2,
               tickfont=dict(family=FONT, size=31, color="black"),
               ticklabelstandoff=22, automargin=False),
)

fig.write_html("out.html")
